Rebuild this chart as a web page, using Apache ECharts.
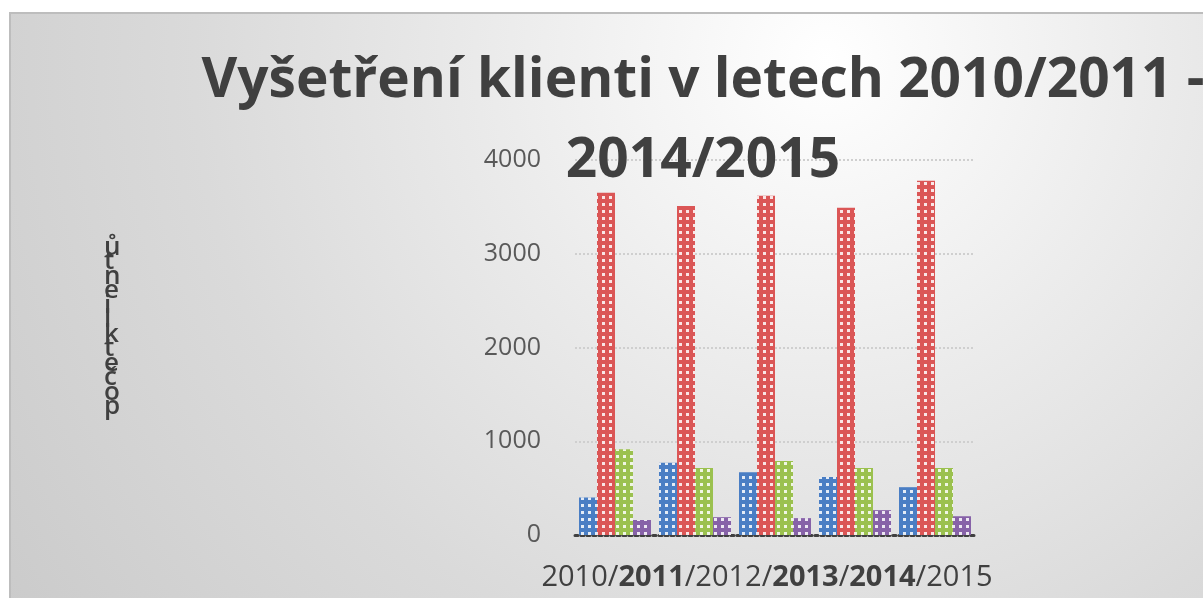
<!DOCTYPE html>
<html>
<head>
<meta charset="utf-8">
<script src="https://cdn.jsdelivr.net/npm/echarts@6/dist/echarts.min.js"></script>
<style>
  html, body { margin: 0; padding: 0; background: #fff; }
  #chart { width: 1203px; height: 598px; }
</style>
</head>
<body>
<div id="chart"></div>
<script>
// school years on the category axis
const categories = ['2010/2011', '2011/2012', '2012/2013', '2013/2014', '2014/2015'];
// four client groups
const seriesA = [400, 770, 670, 620, 510];
const seriesB = [3650, 3510, 3620, 3490, 3780];
const seriesC = [915, 715, 790, 715, 715];
const seriesD = [160, 190, 180, 265, 200];
const yTicks = [0, 1000, 2000, 3000, 4000];
const yName = 'počet klientů';

const colors = ['#4a7ec4', '#db5656', '#9bc14f', '#8762a8'];

// white dotted pattern on the bars
const dots = {
  symbol: 'rect',
  symbolSize: 1,
  color: 'rgba(255,255,255,0.85)',
  dashArrayX: [3, 4],
  dashArrayY: [3, 4],
  rotation: 0
};

const makeSeries = (name, data, i) => ({
  name,
  type: 'bar',
  data,
  barGap: 0,
  barCategoryGap: '10%',
  itemStyle: { color: colors[i], decal: dots },
  emphasis: { disabled: true }
});

const chart = echarts.init(document.getElementById('chart'));

const option = {
  animation: false,
  graphic: [
    {
      type: 'rect',
      z: -10,
      shape: { x: 10, y: 13, width: 1200, height: 600 },
      style: {
        fill: new echarts.graphic.RadialGradient(0.68, 0.08, 1.75, [
          { offset: 0, color: '#ffffff' },
          { offset: 0.3, color: '#ececec' },
          { offset: 0.6, color: '#dadada' },
          { offset: 1, color: '#c8c8c8' }
        ]),
        stroke: '#bdbdbd',
        lineWidth: 2
      }
    }
  ],
  title: [
    {
      text: 'Vyšetření klienti v letech 2010/2011 -\n2014/2015',
      left: 698,
      top: 36,
      textAlign: 'center',
      textStyle: {
        fontFamily: 'Open Sans',
        fontWeight: 'bold',
        fontSize: 55,
        lineHeight: 80,
        color: '#404040'
      }
    },
    {
      // the axis title is stacked letter by letter, bottom to top
      text: yName.split('').reverse().filter(c => c !== ' ').map(c => '{a|' + c + '}').join('\n'),
      left: 99,
      top: 235,
      textStyle: {
        rich: {
          a: {
            fontFamily: 'Open Sans',
            fontWeight: 600,
            fontSize: 26,
            lineHeight: 14.5,
            color: '#404040'
          }
        }
      }
    }
  ],
  grid: { left: 575, right: 228, top: 160, bottom: 63 },
  xAxis: {
    type: 'category',
    data: categories,
    axisTick: { show: false },
    axisLine: { lineStyle: { color: '#404040', type: 'dotted', width: 3 } },
    axisLabel: {
      interval: 0,
      margin: 28,
      fontFamily: 'Open Sans',
      fontSize: 29,
      color: '#404040',
      padding: [0, 16, 0, 0],
      formatter: (v, idx) => {
        if (idx !== 2) return '';
        const y = categories.map(c => c.split('/')[0]).concat(categories[categories.length - 1].split('/')[1]);
        return y[0] + '/{b|' + y[1] + '}/' + y[2] + '/{b|' + y[3] + '}/{b|' + y[4] + '}/' + y[5];
      },
      rich: {
        b: { fontFamily: 'Open Sans', fontSize: 29, fontWeight: 'bold', color: '#404040' }
      }
    }
  },
  yAxis: {
    type: 'value',
    min: yTicks[0],
    max: yTicks[yTicks.length - 1],
    interval: 1000,
    axisLine: { show: false },
    axisTick: { show: false },
    axisLabel: {
      margin: 34,
      fontFamily: 'Open Sans',
      fontSize: 25,
      color: '#595959',
      formatter: v => String(v)
    },
    splitLine: { lineStyle: { color: '#cfcfcf', type: 'dotted', width: 2 } }
  },
  series: [
    makeSeries('A', seriesA, 0),
    makeSeries('B', seriesB, 1),
    makeSeries('C', seriesC, 2),
    makeSeries('D', seriesD, 3)
  ]
};

chart.setOption(option);
</script>
</body>
</html>
